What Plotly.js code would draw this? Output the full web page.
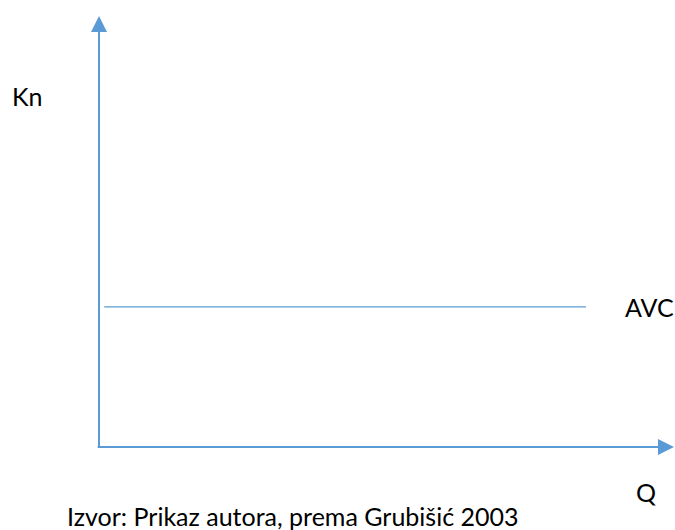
<!DOCTYPE html>
<html>
<head>
<meta charset="utf-8">
<script src="https://cdn.plot.ly/plotly-3.0.1.min.js"></script>
<style>html,body{margin:0;padding:0;background:#fff;}#chart{width:675px;height:530px;}</style>
</head>
<body>
<div id="chart"></div>
<script>
// Data (conceptual units)
const qAxisX = [-0.05, 10];     // Q axis extent
const knAxisY = [-0.04, 10];    // Kn axis extent
const avcX = [0.09, 8.47];      // AVC line extent along Q
const avcY = [3.25, 3.25];      // constant average variable cost
const labels = ["Kn", "AVC", "Q"];
const labelX = [-0.125, 0.958, 0.951];   // paper coords
const labelY = [0.814, 0.325, -0.104];
const caption = "Izvor: Prikaz autora, prema Grubišić 2003";

const blue = "#5B9BD5";
const font = {family: "Lato, 'Open Sans', sans-serif", size: 25, color: "#000"};

const traces = [{
  x: avcX, y: avcY, mode: "lines", type: "scatter",
  line: {color: blue, width: 1.3}, hoverinfo: "skip", showlegend: false, cliponaxis: false
}];

const annotations = [
  {x: qAxisX[1], y: 0, ax: qAxisX[0], ay: 0, xref: "x", yref: "y", axref: "x", ayref: "y",
   text: "", showarrow: true, arrowhead: 2, arrowsize: 1.6, arrowwidth: 2, arrowcolor: blue},
  {x: 0, y: knAxisY[1], ax: 0, ay: knAxisY[0], xref: "x", yref: "y", axref: "x", ayref: "y",
   text: "", showarrow: true, arrowhead: 2, arrowsize: 1.6, arrowwidth: 2, arrowcolor: blue}
];
labels.forEach((t, i) => annotations.push({
  x: labelX[i], y: labelY[i], xref: "paper", yref: "paper", xanchor: "center", yanchor: "middle",
  text: t, showarrow: false, font: font
}));
annotations.push({x: 0.337, y: -0.160, xref: "paper", yref: "paper", xanchor: "center", yanchor: "middle",
  text: caption, showarrow: false, font: font});

const layout = {
  width: 675, height: 530,
  margin: {l: 99, r: 1, t: 16, b: 83},
  paper_bgcolor: "#fff", plot_bgcolor: "#fff",
  xaxis: {range: [0, 10], visible: false, fixedrange: true},
  yaxis: {range: [0, 10], visible: false, fixedrange: true},
  showlegend: false,
  annotations: annotations
};
Plotly.newPlot("chart", traces, layout, {staticPlot: true, displayModeBar: false});
</script>
</body>
</html>
